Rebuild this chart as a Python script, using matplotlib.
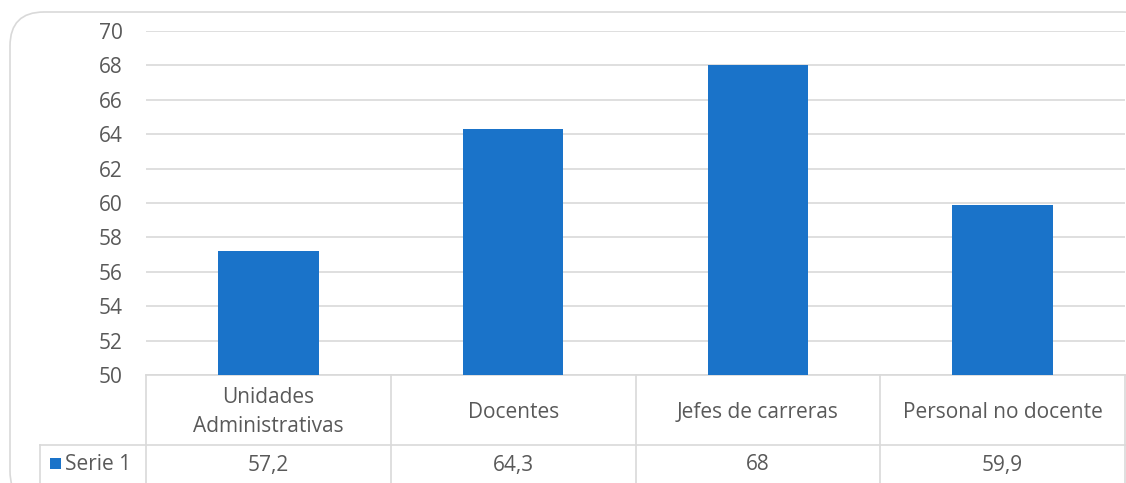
import matplotlib.pyplot as plt
from matplotlib.patches import FancyBboxPatch, Rectangle
import numpy as np

# Data
categories = ['Unidades\nAdministrativas', 'Docentes', 'Jefes de carreras', 'Personal no docente']
values = [57.2, 64.3, 68, 59.9]
value_labels = ['57,2', '64,3', '68', '59,9']
series_name = 'Serie 1'
y_ticks = list(range(50, 72, 2))

W, H = 1126, 483
bar_color = '#1a73c9'
grid_color = '#d9d9d9'
text_color = '#595959'
fs = 15
plt.rcParams['font.family'] = ['Open Sans', 'DejaVu Sans']

fig = plt.figure(figsize=(W / 100, H / 100), dpi=100)

# overlay in pixel coordinates for frame and data table
ov = fig.add_axes([0, 0, 1, 1], zorder=0)
ov.set_xlim(0, W)
ov.set_ylim(H, 0)
ov.axis('off')

frame = FancyBboxPatch((10, 12), W + 20, H + 10,
                       boxstyle='round,pad=0,rounding_size=34',
                       facecolor='white', edgecolor=grid_color, lw=1.2)
ov.add_patch(frame)

# plot area
left, right, top, bottom = 146, 1125, 31, 375
ax = fig.add_axes([left / W, 1 - bottom / H, (right - left) / W, (bottom - top) / H], zorder=1)
ax.set_facecolor('none')
x = np.arange(len(categories))
ax.bar(x, values, width=0.41, color=bar_color, zorder=3)
ax.set_xlim(-0.5, len(categories) - 0.5)
ax.set_ylim(50, 70)
ax.set_yticks(y_ticks)
ax.tick_params(axis='y', length=0, pad=17, labelsize=fs, labelcolor=text_color)
ax.set_xticks([])
ax.grid(axis='y', color=grid_color, lw=1.2, zorder=0)
for s in ['top', 'right', 'left']:
    ax.spines[s].set_visible(False)
ax.spines['bottom'].set_color(grid_color)
ax.spines['bottom'].set_linewidth(1.2)

# data table
colw = (right - left) / len(categories)
row_mid = 445
key_left = 40
lc = dict(color=grid_color, lw=1.2)
ov.plot([key_left, right], [row_mid, row_mid], **lc)
ov.plot([key_left, key_left], [row_mid, H], **lc)
for i in range(len(categories) + 1):
    xx = left + i * colw
    ov.plot([xx, xx], [bottom, H], **lc)
for i, (cat, lab) in enumerate(zip(categories, value_labels)):
    cx = left + (i + 0.5) * colw
    ov.text(cx, (bottom + row_mid) / 2 + 2, cat, ha='center', va='center',
            fontsize=fs, color=text_color, linespacing=1.45)
    ov.text(cx, (row_mid + H) / 2 + 1, lab, ha='center', va='center',
            fontsize=fs, color=text_color)
ov.add_patch(Rectangle((50, 458), 11, 11, facecolor=bar_color, edgecolor='none'))
ov.text(65, 464, series_name, ha='left', va='center', fontsize=fs, color=text_color)

fig.savefig('out.png', dpi=100)
